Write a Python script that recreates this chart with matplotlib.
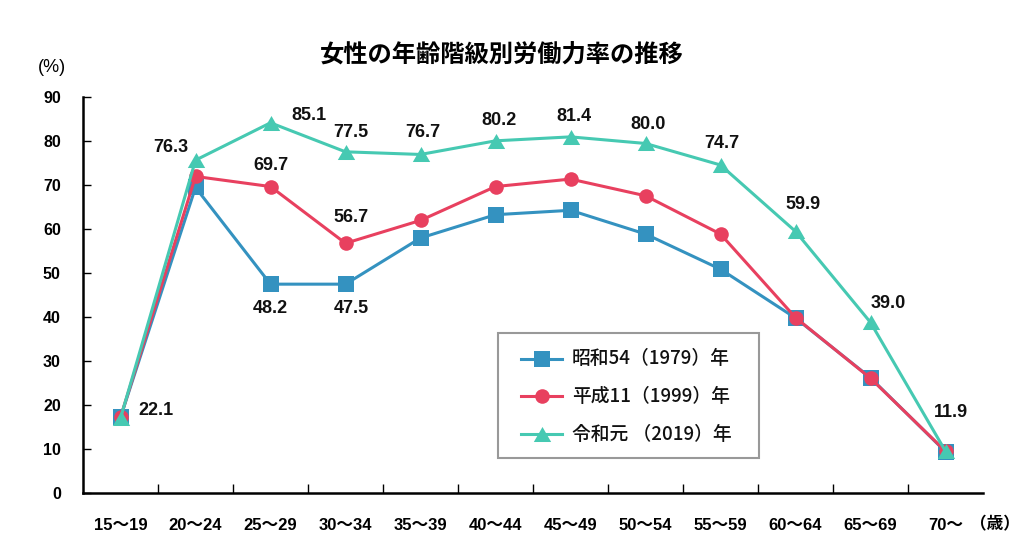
import matplotlib
matplotlib.use('Agg')
import matplotlib.pyplot as plt
from matplotlib.lines import Line2D
from matplotlib.patches import Rectangle

# ---- data ----
categories = ['15〜19', '20〜24', '25〜29', '30〜34', '35〜39', '40〜44',
              '45〜49', '50〜54', '55〜59', '60〜64', '65〜69', '70〜']
s1979 = [17.2, 69.5, 47.5, 47.5, 58.0, 63.3, 64.3, 58.9, 50.9, 39.8, 26.2, 9.4]
s1999 = [17.2, 72.0, 69.7, 56.8, 62.0, 69.7, 71.4, 67.6, 58.9, 39.9, 26.1, 9.5]
s2019 = [17.0, 75.7, 84.2, 77.6, 77.0, 80.1, 81.0, 79.5, 74.6, 59.5, 38.8, 9.5]
series_names = ['昭和54（1979）年', '平成11（1999）年', '令和元 （2019）年']
yticks = [0, 10, 20, 30, 40, 50, 60, 70, 80, 90]

# data labels: (text, series index, category index)
label_texts = ['22.1', '76.3', '48.2', '47.5', '69.7', '85.1', '77.5', '56.7',
               '76.7', '80.2', '81.4', '80.0', '74.7', '59.9', '39.0', '11.9']
label_series = [2, 2, 0, 0, 1, 2, 2, 1, 2, 2, 2, 2, 2, 2, 2, 2]
label_cats = [0, 1, 2, 3, 2, 2, 3, 3, 4, 5, 6, 7, 8, 9, 10, 11]

# ---- layout / style ----
W, H = 1024, 542
label_offsets = [(35, 8), (-25, 13), (0, -24), (6, -24), (0, 21), (38, 7), (5, 19), (5, 26),
                 (2, 22), (3, 20), (3, 20), (3, 19), (1, 22), (8, 27), (18, 19), (5, 39)]
colors = ['#3492c0', '#e8405f', '#46c9b2']
tri = [(-1, -0.866), (1, -0.866), (0, 0.866)]
markers = ['s', 'o', tri]
msizes = [11, 10.5, 12.5]

NUM_FONT = ['Liberation Sans', 'Noto Sans CJK JP']
CJK_FONT = ['Noto Sans CJK JP', 'DejaVu Sans']

fig = plt.figure(figsize=(W / 100, H / 100), dpi=100)
ax = fig.add_axes([83 / W, 1 - 493 / H, 900 / W, (493 - 97.3) / H])

all_series = [s1979, s1999, s2019]
x = list(range(len(categories)))
for i, s in enumerate(all_series):
    ax.plot(x, s, color=colors[i], lw=2.2, marker=markers[i], ms=msizes[i],
            markeredgewidth=0, label=series_names[i], zorder=3 + i, clip_on=False)

for t, si, ci, off in zip(label_texts, label_series, label_cats, label_offsets):
    ax.annotate(t, (ci, all_series[si][ci]), xytext=off, textcoords='offset pixels',
                ha='center', va='center', fontsize=13, fontweight='bold',
                family=NUM_FONT, color='#111111', zorder=10)

ax.set_xlim(-0.5, len(categories) - 0.5)
ax.set_ylim(0, 90)
ax.set_xticks(x)
ax.set_xticklabels(categories)
ax.set_xticks([i + 0.5 for i in range(len(categories) - 1)], minor=True)
ax.set_yticks(yticks)
ax.tick_params(axis='x', which='major', length=0, pad=18, labelsize=12)
ax.tick_params(axis='x', which='minor', direction='in', length=6.5, width=1)
ax.tick_params(axis='y', which='major', direction='in', length=5.8, width=1, pad=16,
               labelsize=11.5)
for lab in ax.get_xticklabels() + ax.get_yticklabels():
    lab.set_family(NUM_FONT)
    lab.set_fontweight('bold')

for sp in ['top', 'right']:
    ax.spines[sp].set_visible(False)
for sp in ['left', 'bottom']:
    ax.spines[sp].set_linewidth(1.8)
    ax.spines[sp].set_color('black')

# ---- legend (drawn in figure pixel layout) ----
def fx(px):
    return px / W

def fy(py):
    return 1 - py / H

fig.patches.append(Rectangle((fx(498), fy(458)), fx(759) - fx(498), fy(333) - fy(458),
                             transform=fig.transFigure, facecolor='white',
                             edgecolor='#999999', linewidth=1.5, zorder=20))
row_y = [359, 396, 434]
for i in range(3):
    fig.add_artist(Line2D([fx(521), fx(562)], [fy(row_y[i])] * 2, transform=fig.transFigure,
                          color=colors[i], lw=2.2, zorder=21))
    fig.add_artist(Line2D([fx(541.5)], [fy(row_y[i])], transform=fig.transFigure,
                          color=colors[i], marker=markers[i], ms=msizes[i],
                          markeredgewidth=0, zorder=22))
    fig.text(fx(572), fy(row_y[i]), series_names[i], ha='left', va='center',
             fontsize=13.5, fontweight='medium', family=CJK_FONT, color='#111111',
             zorder=23)

fig.text(502 / W, 1 - 55 / H, '女性の年齢階級別労働力率の推移', ha='center', va='center',
         fontsize=17.5, fontweight='bold', family=CJK_FONT)
fig.text(52 / W, 1 - 67 / H, '(%)', ha='center', va='center', fontsize=13,
         family=NUM_FONT)
fig.text(995 / W, 1 - 524 / H, '（歳）', ha='center', va='center', fontsize=12,
         fontweight='bold', family=CJK_FONT)

fig.savefig('out.png', dpi=100)
